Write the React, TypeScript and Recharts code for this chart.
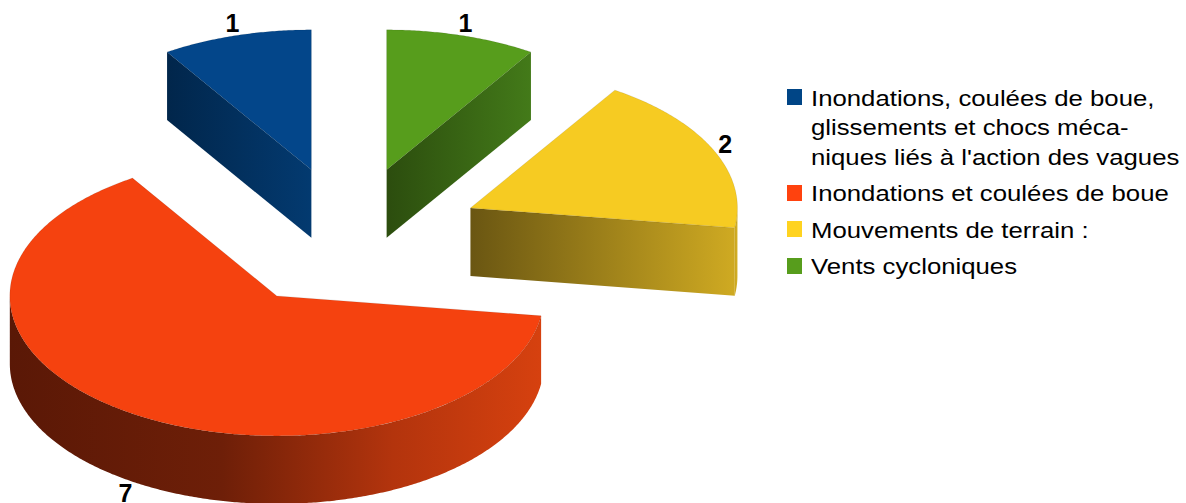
import React from 'react';
import { PieChart, Pie, Cell, Legend } from 'recharts';

// ---- data ----
const categories = [
  "Inondations, coulées de boue, glissements et chocs mécaniques liés à l'action des vagues",
  'Inondations et coulées de boue',
  'Mouvements de terrain :',
  'Vents cycloniques',
];
const values = [1, 7, 2, 1];
const legendLines = [
  ['Inondations, coulées de boue,', 'glissements et chocs méca-', "niques liés à l'action des vagues"],
  ['Inondations et coulées de boue'],
  ['Mouvements de terrain :'],
  ['Vents cycloniques'],
];

// ---- styles ----
const legendColors = ['#004586', '#ff420e', '#ffd320', '#579d1c'];
const topColors = ['#03468a', '#f5420f', '#f6cb22', '#579d1c'];
const cutColors = [
  ['#01264b', '#033a70'],
  ['#6a1e08', '#a8300c'],
  ['#6a5612', '#cfaa22'],
  ['#2c4d0e', '#437a19'],
];
const wallStops = [
  [['0', '#01264b'], ['1', '#033a70']],
  [['0', '#5a1806'], ['0.4', '#6e1f08'], ['0.72', '#b3340d'], ['1', '#d6410f']],
  [['0', '#c9a520'], ['1', '#d4b024']],
  [['0', '#2c4d0e'], ['1', '#437a19']],
];

const CX = 349;
const CY = 237;
const RX = 267;
const RY_RATIO = 140 / 267;
const DEPTH = 68;
const EXPLODE = 0.5;

const data = categories.map((name, i) => ({ name, value: values[i] }));
const rad = (d: number) => (d * Math.PI) / 180;

const fmt = (pts: number[][]) => pts.map((p, i) => `${i ? 'L' : 'M'}${p[0].toFixed(2)},${p[1].toFixed(2)}`).join(' ') + ' Z';

const Slice3D = (props: any) => {
  const { cx, cy, outerRadius, startAngle, endAngle } = props;
  let index = props.index;
  if (typeof index !== 'number') {
    const nm = props.name ?? props.payload?.name;
    index = categories.indexOf(nm);
  }
  const s = Math.min(startAngle, endAngle);
  const e = Math.max(startAngle, endAngle);
  const rx = outerRadius;
  const ry = rx * RY_RATIO;
  const mid = (s + e) / 2;
  const ox = cx + EXPLODE * rx * Math.cos(rad(mid));
  const oy = cy - EXPLODE * ry * Math.sin(rad(mid));
  const pt = (t: number, dy = 0) => [ox + rx * Math.cos(rad(t)), oy - ry * Math.sin(rad(t)) + dy];
  const arc = (a: number, b: number, dy = 0) => {
    const pts: number[][] = [];
    const n = Math.max(2, Math.ceil(Math.abs(b - a) / 0.5));
    for (let k = 0; k <= n; k++) pts.push(pt(a + ((b - a) * k) / n, dy));
    return pts;
  };
  const id = `sl${index}`;
  const parts: React.ReactNode[] = [];

  // outer walls (front half)
  const windows = [[180, 360], [540, 720], [-180, 0]];
  let wallMinX = Infinity, wallMaxX = -Infinity;
  const walls: number[][][] = [];
  windows.forEach(([w0, w1]) => {
    const t1 = Math.max(s, w0);
    const t2 = Math.min(e, w1);
    if (t2 > t1) {
      const top = arc(t1, t2);
      const bot = arc(t2, t1, DEPTH);
      const poly = [...top, ...bot];
      poly.forEach((p) => { wallMinX = Math.min(wallMinX, p[0]); wallMaxX = Math.max(wallMaxX, p[0]); });
      walls.push(poly);
    }
  });

  const cuts: number[][][] = [];
  const apex = [ox, oy];
  const apexB = [ox, oy + DEPTH];
  if (Math.sin(rad(s - 90)) < -0.01) {
    const r = pt(s);
    cuts.push([apex, r, [r[0], r[1] + DEPTH], apexB]);
  }
  if (Math.sin(rad(e + 90)) < -0.01) {
    const r = pt(e);
    cuts.push([apex, r, [r[0], r[1] + DEPTH], apexB]);
  }

  const defs = (
    <defs>
      {walls.length > 0 && (
        <linearGradient id={`${id}w`} gradientUnits="userSpaceOnUse" x1={wallMinX} y1={0} x2={wallMaxX} y2={0}>
          {wallStops[index].map(([o, c], k) => <stop key={k} offset={o} stopColor={c} />)}
        </linearGradient>
      )}
      {cuts.map((q, k) => {
        const xs = q.map((p) => p[0]);
        return (
          <linearGradient key={k} id={`${id}c${k}`} gradientUnits="userSpaceOnUse" x1={Math.min(...xs)} y1={0} x2={Math.max(...xs)} y2={0}>
            <stop offset="0" stopColor={cutColors[index][0]} />
            <stop offset="1" stopColor={cutColors[index][1]} />
          </linearGradient>
        );
      })}
    </defs>
  );

  walls.forEach((w, k) => parts.push(<path key={`w${k}`} d={fmt(w)} fill={`url(#${id}w)`} />));
  cuts.forEach((q, k) => parts.push(<path key={`c${k}`} d={fmt(q)} fill={`url(#${id}c${k})`} />));
  const topPoly = [apex, ...arc(s, e)];
  parts.push(<path key="top" d={fmt(topPoly)} fill={topColors[index]} stroke="rgba(0,0,0,0.15)" strokeWidth={0.6} />);

  return (
    <g>
      {defs}
      {parts}
    </g>
  );
};

const renderLabel = (p: any) => {
  const { cx, cy, midAngle, outerRadius, value } = p;
  const rx = outerRadius;
  const ry = rx * RY_RATIO;
  const c = Math.cos(rad(midAngle));
  const sn = Math.sin(rad(midAngle));
  const ox = cx + EXPLODE * rx * c;
  const oy = cy - EXPLODE * ry * sn;
  const off = 13;
  const x = ox + rx * c + off * c;
  const y = oy - ry * sn + (sn < 0 ? DEPTH : 0) - off * sn;
  return (
    <text x={x} y={y} textAnchor="middle" dominantBaseline="central" fontFamily='"Liberation Sans", Arial, sans-serif' fontWeight="bold" fontSize={25} fill="#000">
      {value}
    </text>
  );
};

const renderLegend = () => (
  <div style={{ fontFamily: '"Liberation Sans", Arial, sans-serif', fontSize: 22, lineHeight: '29.5px', color: '#000' }}>
    {categories.map((c, i) => (
      <div key={c} style={{ position: 'relative', paddingLeft: 24, marginBottom: 7 }}>
        <span style={{ position: 'absolute', left: 0, top: 5.5, width: 15, height: 16, background: legendColors[i] }} />
        {legendLines[i].map((l, j) => (
          <div key={j} style={{ whiteSpace: 'nowrap', transform: 'scaleX(1.17)', transformOrigin: 'left center' }}>{l}</div>
        ))}
      </div>
    ))}
  </div>
);

export default function App() {
  return (
    <div style={{ position: 'absolute', left: 0, top: 0, width: 1186, height: 503, background: '#fff' }}>
      <PieChart width={1186} height={503} margin={{ top: 0, right: 0, bottom: 0, left: 0 }}>
        <Pie
          data={data}
          dataKey="value"
          nameKey="name"
          cx={CX}
          cy={CY}
          outerRadius={RX}
          startAngle={90}
          endAngle={450}
          stroke="none"
          isAnimationActive={false}
          labelLine={false}
          label={renderLabel}
          shape={Slice3D}
        >
          {data.map((d, i) => (
            <Cell key={d.name} fill={topColors[i]} />
          ))}
        </Pie>
        <Legend
          layout="vertical"
          align="right"
          verticalAlign="middle"
          content={renderLegend}
          wrapperStyle={{ left: 787, top: 83.6, width: 399, right: 'auto', bottom: 'auto' }}
        />
      </PieChart>
    </div>
  );
}
